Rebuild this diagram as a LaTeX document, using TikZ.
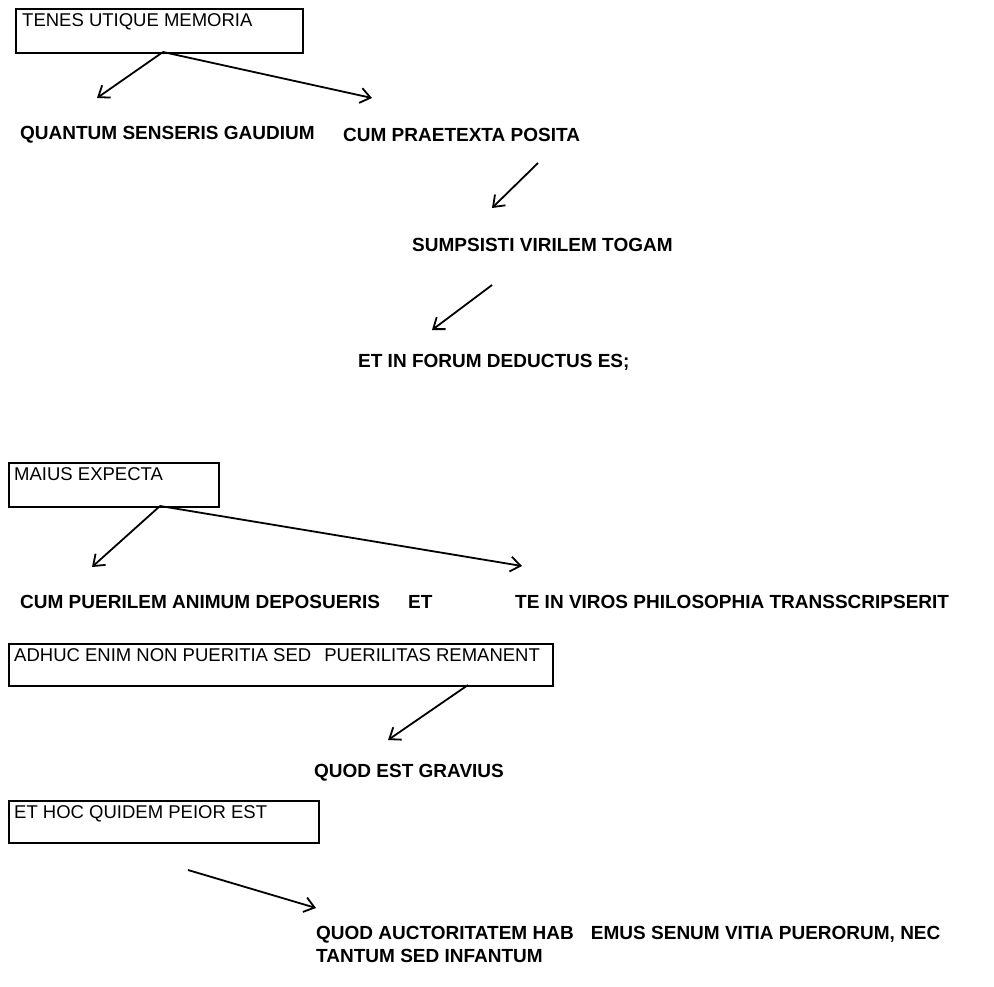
\documentclass[tikz,border=0pt]{standalone}
\usepackage{fontspec}
\setmainfont{Liberation Sans}
\usetikzlibrary{arrows.meta}
\begin{document}
\begin{tikzpicture}[x=1pt,y=-1pt,
  lbl/.style={anchor=west,inner sep=0pt,font=\fontsize{19}{23}\selectfont\bfseries},
  boxtext/.style={anchor=north west,inner sep=0pt,font=\fontsize{18.5}{23}\selectfont},
  frame/.style={draw,line width=1.7pt,anchor=north west,inner sep=0pt,minimum height=#1},
  frame/.default=44pt,
  arr/.style={line width=1.8pt,-{Straight Barb[length=10pt,width=15pt,line width=1.8pt]}}]
\useasboundingbox (0,0) rectangle (994,986);

% first group
\node[frame,minimum width=287pt] (b1) at (15,8) {};
\node[boxtext] (t1) at (22,13) {TENES UTIQUE MEMORIA};
\coordinate (s1) at (163,52);
\node[lbl] (q1) at (20,135) {QUANTUM SENSERIS GAUDIUM};
\node[lbl] (q2) at (343,135) {CUM PRAETEXTA POSITA};
\node[lbl] (q3) at (412,245) {SUMPSISTI VIRILEM TOGAM};
\node[lbl] (q4) at (358,362) {ET IN FORUM DEDUCTUS ES;};
\coordinate (e1) at (97,98);
\coordinate (e2) at (372,98);
\coordinate (a3s) at (538,163);
\coordinate (a3e) at (492,208);
\coordinate (a4s) at (492,285);
\coordinate (a4e) at (432,330);
\draw[arr] (s1) -- (e1);
\draw[arr] (s1) -- (e2);
\draw[arr] (a3s) -- (a3e);
\draw[arr] (a4s) -- (a4e);

% second group
\node[frame,minimum width=210pt] (b2) at (8,462) {};
\node[boxtext] (t2) at (14,467) {MAIUS EXPECTA};
\coordinate (s2) at (160,506);
\coordinate (e3) at (92,567);
\coordinate (e4) at (522,566);
\node[lbl] (r1) at (20,602) {CUM PUERILEM ANIMUM DEPOSUERIS\hspace{28pt}ET};
\node[lbl] (r2) at (515,602) {TE IN VIROS PHILOSOPHIA TRANSSCRIPSERIT};
\draw[arr] (s2) -- (e3);
\draw[arr] (s2) -- (e4);

% third group
\node[frame=42pt,minimum width=544pt] (b3) at (8,643) {};
\node[boxtext] (t3) at (14,648) {ADHUC ENIM NON PUERITIA SED\hspace{8pt} PUERILITAS REMANENT};
\coordinate (s3) at (468,685);
\coordinate (e5) at (388,740);
\node[lbl] (g1) at (314,773) {QUOD EST GRAVIUS};
\draw[arr] (s3) -- (e5);

% fourth group
\node[frame=42pt,minimum width=310pt] (b4) at (8,800) {};
\node[boxtext] (t4) at (14,805) {ET HOC QUIDEM PEIOR EST};
\coordinate (s4) at (188,870);
\coordinate (e6) at (316,908);
\draw[arr] (s4) -- (e6);
\node[lbl,align=left,anchor=north west] (h1) at (316,926) {QUOD AUCTORITATEM HAB\hspace{12pt} EMUS SENUM VITIA PUERORUM, NEC\\TANTUM SED INFANTUM};
\end{tikzpicture}
\end{document}
